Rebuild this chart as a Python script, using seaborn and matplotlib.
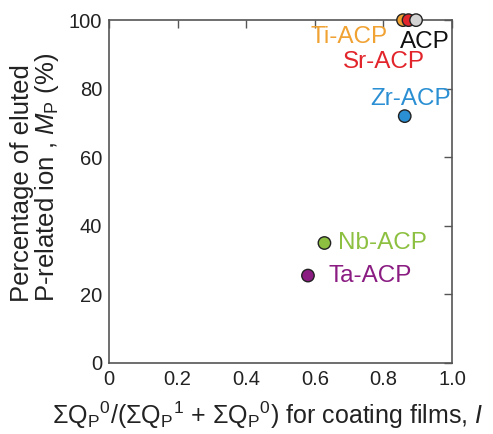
import matplotlib
matplotlib.use("Agg")
import matplotlib.pyplot as plt
import seaborn as sns
import pandas as pd

# Coating film compositions
samples = ["Ti-ACP", "Sr-ACP", "ACP", "Zr-ACP", "Nb-ACP", "Ta-ACP"]
ratio_I = [0.857, 0.873, 0.895, 0.862, 0.628, 0.580]
eluted_MP = [100, 100, 100, 72, 35, 25.5]
colors = ["#F0A233", "#E2242B", "#D3D3D3", "#2B8FD3", "#8DC041", "#8A1C82"]
label_colors = ["#F0A233", "#E2242B", "#111111", "#2B8FD3", "#8DC041", "#8A1C82"]
label_x = [0.700, 0.800, 0.921, 0.878, 0.668, 0.640]
label_y = [95.0, 87.8, 93.6, 77.0, 35.0, 25.5]
label_ha = ["center", "center", "center", "center", "left", "left"]

df = pd.DataFrame({"sample": samples, "I": ratio_I, "MP": eluted_MP})

sns.set_theme(style="white")
plt.rcParams["font.family"] = ["Liberation Sans", "DejaVu Sans"]
plt.rcParams["mathtext.fontset"] = "custom"
plt.rcParams["mathtext.rm"] = "Liberation Sans"
plt.rcParams["mathtext.it"] = "Liberation Sans:italic"

fig = plt.figure(figsize=(4.93, 4.34), dpi=100)
ax = fig.add_axes([0.221, 0.1636, 0.696, 0.790])

sns.scatterplot(data=df, x="I", y="MP", hue="sample", palette=dict(zip(samples, colors)),
                s=80, edgecolor="#222222", linewidth=1.0, legend=False, ax=ax,
                clip_on=False, zorder=5)

for name, tx, ty, c, ha in zip(samples, label_x, label_y, label_colors, label_ha):
    ax.text(tx, ty, name, color=c, fontsize=17.5, ha=ha, va="center")

ax.set_xlim(0, 1.0)
ax.set_ylim(0, 100)
ax.set_xticks([0, 0.2, 0.4, 0.6, 0.8, 1.0])
ax.set_xticklabels(["0", "0.2", "0.4", "0.6", "0.8", "1.0"])
ax.set_yticks([0, 20, 40, 60, 80, 100])

for sp in ax.spines.values():
    sp.set_color("#555555")
    sp.set_linewidth(1.2)
ax.tick_params(direction="in", length=6, width=1.0, color="#555555",
               top=True, right=True, labelsize=14.5, labelcolor="#222222", pad=5)

ax.set_xlabel(r"$\Sigma$Q$_{\rm P}$$^{0}$/($\Sigma$Q$_{\rm P}$$^{1}$ + $\Sigma$Q$_{\rm P}$$^{0}$) for coating films, $I$",
              fontsize=18, color="#222222")
ax.xaxis.set_label_coords(0.462, -0.108)
ax.set_ylabel("Percentage of eluted\nP-related ion , $M_{\\rm P}$ (%)",
              fontsize=18.5, color="#222222", linespacing=0.95, multialignment="left")
ax.yaxis.set_label_coords(-0.140, 0.54)

fig.savefig("out.png", dpi=100)
